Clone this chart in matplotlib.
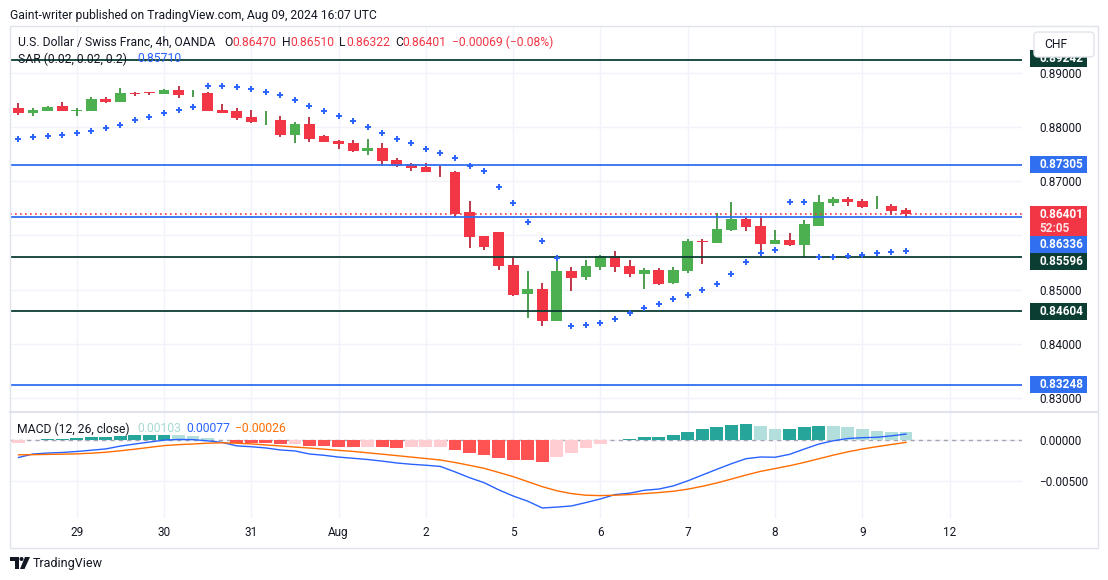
import matplotlib
matplotlib.use('Agg')
import matplotlib.pyplot as plt
from matplotlib.patches import Rectangle, FancyBboxPatch, Polygon, Circle
from matplotlib.transforms import Affine2D
from matplotlib.ticker import FuncFormatter

plt.rcParams['font.family'] = ['Roboto', 'DejaVu Sans']

# USD/CHF 4h candles, 62 bars
opens = [0.88350, 0.88263, 0.88294, 0.88386, 0.88303, 0.88294, 0.88515, 0.88460, 0.88626, 0.88644,
         0.88608, 0.88681, 0.88617, 0.88626, 0.88313, 0.88294, 0.88184, 0.88119, 0.88128, 0.87852,
         0.88055, 0.87834, 0.87742, 0.87705, 0.87563, 0.87613, 0.87391, 0.87318, 0.87262, 0.87189,
         0.87170, 0.86433, 0.85991, 0.86065, 0.85457, 0.84922, 0.85014, 0.84425, 0.85346, 0.85236,
         0.85420, 0.85623, 0.85438, 0.85291, 0.85365, 0.85125, 0.85346, 0.85899, 0.85862, 0.86102,
         0.86304, 0.86175, 0.85844, 0.85917, 0.85825, 0.86175, 0.86599, 0.86673, 0.86636, 0.86535,
         0.86544, 0.86470]
highs = [0.88442, 0.88344, 0.88386, 0.88460, 0.88355, 0.88552, 0.88552, 0.88718, 0.88650, 0.88648,
         0.88694, 0.88755, 0.88681, 0.88644, 0.88423, 0.88350, 0.88313, 0.88294, 0.88202, 0.88092,
         0.88184, 0.87852, 0.87760, 0.87760, 0.87784, 0.87705, 0.87428, 0.87336, 0.87336, 0.87281,
         0.87189, 0.86636, 0.85995, 0.86065, 0.85586, 0.85346, 0.85125, 0.85530, 0.85420, 0.85549,
         0.85641, 0.85715, 0.85549, 0.85401, 0.85401, 0.85420, 0.85936, 0.85936, 0.86415, 0.86618,
         0.86341, 0.86360, 0.86102, 0.86046, 0.86286, 0.86747, 0.86710, 0.86710, 0.86673, 0.86728,
         0.86581, 0.86510]
lows = [0.88226, 0.88208, 0.88290, 0.88290, 0.88208, 0.88290, 0.88442, 0.88455, 0.88576, 0.88595,
        0.88605, 0.88534, 0.88552, 0.88285, 0.88250, 0.88128, 0.88073, 0.88036, 0.87815, 0.87705,
        0.87723, 0.87714, 0.87594, 0.87544, 0.87484, 0.87281, 0.87262, 0.87189, 0.87161, 0.87078,
        0.86341, 0.85770, 0.85733, 0.85365, 0.84886, 0.84480, 0.84333, 0.84420, 0.84978, 0.85180,
        0.85365, 0.85328, 0.85236, 0.85014, 0.85088, 0.85107, 0.85309, 0.85475, 0.85860, 0.86083,
        0.86083, 0.85733, 0.85840, 0.85807, 0.85604, 0.86170, 0.86544, 0.86544, 0.86507, 0.86489,
        0.86378, 0.86322]
closes = [0.88263, 0.88313, 0.88368, 0.88294, 0.88313, 0.88515, 0.88460, 0.88626, 0.88608, 0.88626,
          0.88681, 0.88589, 0.88626, 0.88294, 0.88257, 0.88165, 0.88092, 0.88128, 0.87852, 0.88055,
          0.87778, 0.87723, 0.87686, 0.87562, 0.87618, 0.87373, 0.87281, 0.87244, 0.87170, 0.87183,
          0.86396, 0.85973, 0.85788, 0.85438, 0.84904, 0.85014, 0.84425, 0.85346, 0.85217, 0.85438,
          0.85623, 0.85420, 0.85291, 0.85365, 0.85107, 0.85365, 0.85899, 0.85881, 0.86120, 0.86304,
          0.86157, 0.85844, 0.85917, 0.85825, 0.86212, 0.86618, 0.86673, 0.86618, 0.86525, 0.86544,
          0.86452, 0.86401]

# parabolic SAR
sar = [0.87773, 0.87810, 0.87828, 0.87847, 0.87883, 0.87920, 0.87976, 0.88031, 0.88123, 0.88178,
       0.88252, 0.88307, 0.88362, 0.88755, 0.88755, 0.88731, 0.88694, 0.88639, 0.88584, 0.88491,
       0.88381, 0.88289, 0.88197, 0.88105, 0.87994, 0.87883, 0.87773, 0.87699, 0.87589, 0.87515,
       0.87423, 0.87275, 0.87183, 0.86888, 0.86594, 0.86244, 0.85893, 0.85580, 0.84327, 0.84346,
       0.84382, 0.84456, 0.84567, 0.84659, 0.84733, 0.84825, 0.84898, 0.84991, 0.85101, 0.85285,
       0.85506, 0.85672, 0.85728, 0.86612, 0.86612, 0.85599, 0.85599, 0.85617, 0.85635, 0.85672,
       0.85691, 0.85710]

# MACD (12, 26, close)
macd = [-0.00213, -0.00170, -0.00158, -0.00151, -0.00139, -0.00123, -0.00107, -0.00072, -0.00046, -0.00022,
        0.00002, 0.00010, 0.00008, -0.00007, -0.00027, -0.00069, -0.00080, -0.00095, -0.00120, -0.00132,
        -0.00170, -0.00186, -0.00208, -0.00223, -0.00238, -0.00258, -0.00281, -0.00297, -0.00309, -0.00324,
        -0.00391, -0.00463, -0.00525, -0.00613, -0.00690, -0.00754, -0.00838, -0.00827, -0.00813, -0.00771,
        -0.00726, -0.00672, -0.00655, -0.00619, -0.00604, -0.00565, -0.00502, -0.00430, -0.00359, -0.00290,
        -0.00228, -0.00207, -0.00210, -0.00174, -0.00109, -0.00047, -0.00006, 0.00022, 0.00032, 0.00037,
        0.00055, 0.00077]
signal = [-0.00180, -0.00178, -0.00175, -0.00172, -0.00168, -0.00160, -0.00148, -0.00130, -0.00110, -0.00088,
          -0.00066, -0.00054, -0.00046, -0.00036, -0.00031, -0.00036, -0.00045, -0.00058, -0.00070, -0.00084,
          -0.00096, -0.00110, -0.00125, -0.00138, -0.00155, -0.00172, -0.00190, -0.00208, -0.00226, -0.00244,
          -0.00275, -0.00310, -0.00347, -0.00398, -0.00450, -0.00512, -0.00574, -0.00625, -0.00660, -0.00680,
          -0.00685, -0.00680, -0.00672, -0.00660, -0.00647, -0.00631, -0.00605, -0.00570, -0.00528, -0.00480,
          -0.00430, -0.00385, -0.00350, -0.00315, -0.00274, -0.00229, -0.00184, -0.00143, -0.00108, -0.00079,
          -0.00052, -0.00026]
hist = [-0.00033, 0.00008, 0.00017, 0.00021, 0.00029, 0.00037, 0.00041, 0.00058, 0.00064, 0.00066,
        0.00068, 0.00064, 0.00054, 0.00029, 0.00004, -0.00033, -0.00035, -0.00037, -0.00050, -0.00048,
        -0.00074, -0.00076, -0.00083, -0.00085, -0.00083, -0.00086, -0.00091, -0.00089, -0.00083, -0.00080,
        -0.00116, -0.00153, -0.00178, -0.00215, -0.00240, -0.00242, -0.00264, -0.00202, -0.00153, -0.00091,
        -0.00041, 0.00008, 0.00017, 0.00041, 0.00043, 0.00066, 0.00103, 0.00140, 0.00169, 0.00190,
        0.00202, 0.00178, 0.00140, 0.00141, 0.00165, 0.00182, 0.00178, 0.00165, 0.00140, 0.00116,
        0.00107, 0.00103]

day_ticks = [4, 10, 16, 22, 28, 34, 40, 46, 52, 58, 64]
day_labels = ['29', '30', '31', 'Aug', '2', '5', '6', '7', '8', '9', '12']
price_ticks = [0.83, 0.84, 0.85, 0.86, 0.87, 0.88, 0.89]
hidden_ticks = [0.86]  # covered by the price tags on the scale
macd_ticks = [0.0, -0.005]

# horizontal levels drawn on chart
level_prices = [0.89242, 0.87305, 0.86336, 0.85596, 0.84604, 0.83248]
level_kinds = ['support', 'resist', 'resist', 'support', 'support', 'resist']
last_close = 0.86401
countdown = '52:05'

TEXT = '#131722'
UP, DOWN = '#4caf50', '#f23645'
UP_WICK, DOWN_WICK = '#3d9440', '#b8283a'
BLUE = '#2962ff'
DARK = '#0b3d33'
LEVEL_COL = {'support': DARK, 'resist': '#2f6ff0'}
GRID = '#f0f3fa'
FS = 8.7

W, H = 1108, 580
fig = plt.figure(figsize=(W / 100, H / 100), dpi=100)
fig.patch.set_facecolor('white')
pix = Affine2D().scale(1.0 / W, -1.0 / H).translate(0, 1) + fig.transFigure

ax = fig.add_axes([10 / W, 1 - 412 / H, 1012 / W, 386 / H])
ax2 = fig.add_axes([10 / W, 1 - 518 / H, 1012 / W, 106 / H], sharex=ax)

n = len(opens)
xs = list(range(n))

for a in (ax, ax2):
    for s in a.spines.values():
        s.set_visible(False)
    a.set_xticks(day_ticks)
    a.grid(True, color=GRID, lw=1)
    a.set_axisbelow(True)
    a.yaxis.tick_right()
    a.tick_params(length=0, labelsize=8.5, labelcolor=TEXT, pad=12.3)

ax.set_xlim(-0.584, 68.97)
ax.set_ylim(0.82748, 0.8986)
ax.set_yticks(price_ticks)
ax.yaxis.set_major_formatter(FuncFormatter(
    lambda v, p: '' if any(abs(v - t) < 1e-9 for t in hidden_ticks) else '%.5f' % v))
ax.tick_params(labelbottom=False)

# candles
for i in xs:
    o, h, l, c = opens[i], highs[i], lows[i], closes[i]
    up = c >= o
    ax.vlines(i, l, h, color=UP_WICK if up else DOWN_WICK, lw=1.3, zorder=2)
    body = max(abs(c - o), 0.00012)
    ax.bar(i, body, bottom=min(o, c), width=0.74, color=UP if up else DOWN, lw=0, zorder=2.2)

ax.plot(xs, sar, ls='none', marker='+', color=BLUE, ms=4.5, mew=1.4, zorder=3)

for p, k in zip(level_prices, level_kinds):
    ax.axhline(p, color=LEVEL_COL[k], lw=1.3, zorder=2.5)
ax.axhline(last_close, color=DOWN, lw=1.2, ls=(0, (1, 2)), zorder=2.5)

# MACD pane
ax2.set_ylim(-0.00962, 0.0035)
ax2.set_yticks(macd_ticks)
ax2.yaxis.set_major_formatter(FuncFormatter(lambda v, p: ('%.5f' % v).replace('-', '\u2212')))
ax2.set_xticks(day_ticks, day_labels)
ax2.tick_params(axis='x', labelbottom=True, pad=5.5)
ax2.axhline(0, color='#a3a6af', lw=1, ls=(0, (3, 3)), zorder=1)
cols = []
prev = float('-inf')
for v in hist:
    if v >= 0:
        cols.append('#26a69a' if v > prev else '#b2dfdb')
    else:
        cols.append('#ff5252' if v < prev else '#ffcdd2')
    prev = v
ax2.bar(xs, hist, width=0.88, color=cols, lw=0, zorder=2)
ax2.plot(xs, macd, color=BLUE, lw=1, zorder=3)
ax2.plot(xs, signal, color='#ff6d00', lw=1, zorder=3)


# price tags on the right scale
def tag(price, color, lines, nudge=0, h=17, colors=None):
    yp = H - ax.transData.transform((0, price))[1] + nudge
    fig.add_artist(Rectangle((1030, yp - h / 2), 57, h, transform=pix, fc=color, ec='none', zorder=6))
    for j, t in enumerate(lines):
        tc = colors[j] if colors else 'white'
        fig.text(1039, yp - h / 2 + 8.5 + 14 * j, t, transform=pix, color=tc, fontsize=8.5,
                 fontweight='bold', va='center', ha='left', zorder=7)


nudges = [-1.5, 0, 27, 4.5, 0, 0]
for p, k, d in zip(level_prices, level_kinds, nudges):
    tag(p, LEVEL_COL[k], ['%.5f' % p], d)
tag(last_close, DOWN, ['%.5f' % last_close, countdown], 7, 30, ['white', '#fde0e3'])

# currency button
fig.add_artist(FancyBboxPatch((1034, 32), 60, 25, boxstyle='round,pad=0,rounding_size=4', transform=pix,
                              fc='white', ec='#e0e3eb', lw=1, zorder=8))
fig.text(1044, 44.5, 'CHF', transform=pix, fontsize=FS, color=TEXT, va='center', zorder=9)

# frame and separators
fig.add_artist(Rectangle((9.5, 25.5), 1088, 522, transform=pix, fill=False, ec='#e0e3eb', lw=1, zorder=5))
fig.add_artist(plt.Line2D([9.5, 1097.5], [412, 412], transform=pix, color='#e0e3eb', lw=1.5, zorder=5))

# header texts
fig.text(10, 15, 'Gaint-writer published on TradingView.com, Aug 09, 2024 16:07 UTC', transform=pix,
         fontsize=FS, color=TEXT, va='center')
hdr = [('U.S. Dollar / Swiss Franc, 4h, OANDA', 18, TEXT), ('O', 224, TEXT), ('0.86470', 232, DOWN),
       ('H', 282, TEXT), ('0.86510', 290, DOWN), ('L', 339, TEXT), ('0.86322', 346, DOWN),
       ('C', 395, TEXT), ('0.86401', 402, DOWN), ('\u22120.00069 (\u22120.08%)', 452, DOWN)]
for t, x, c in hdr:
    fig.text(x, 42.5, t, transform=pix, fontsize=FS, color=c, va='center')
fig.text(18, 59, 'SAR (0.02, 0.02, 0.2)', transform=pix, fontsize=FS, color=TEXT, va='center')
fig.text(137.5, 59, '0.85710', transform=pix, fontsize=FS, color=BLUE, va='center')
mac = [('MACD (12, 26, close)', 17, TEXT), ('0.00103', 137, '#a8dad4'), ('0.00077', 186, BLUE),
       ('\u22120.00026', 235, '#ff6d00')]
for t, x, c in mac:
    fig.text(x, 429, t, transform=pix, fontsize=FS, color=c, va='center')

# TradingView logo
fig.add_artist(Polygon([(10, 557), (18.5, 557), (18.5, 569), (14.5, 569), (14.5, 561), (10, 561)],
                       closed=True, transform=pix, fc=TEXT, ec='none'))
fig.add_artist(Circle((21.5, 559), 2, transform=pix, fc=TEXT, ec='none'))
fig.add_artist(Polygon([(25, 557), (30, 557), (24.5, 569), (20, 569)], closed=True, transform=pix,
                       fc=TEXT, ec='none'))
fig.text(33, 563, 'TradingView', transform=pix, fontsize=9, color=TEXT, va='center')

fig.savefig('out.png', dpi=100, facecolor='white')
